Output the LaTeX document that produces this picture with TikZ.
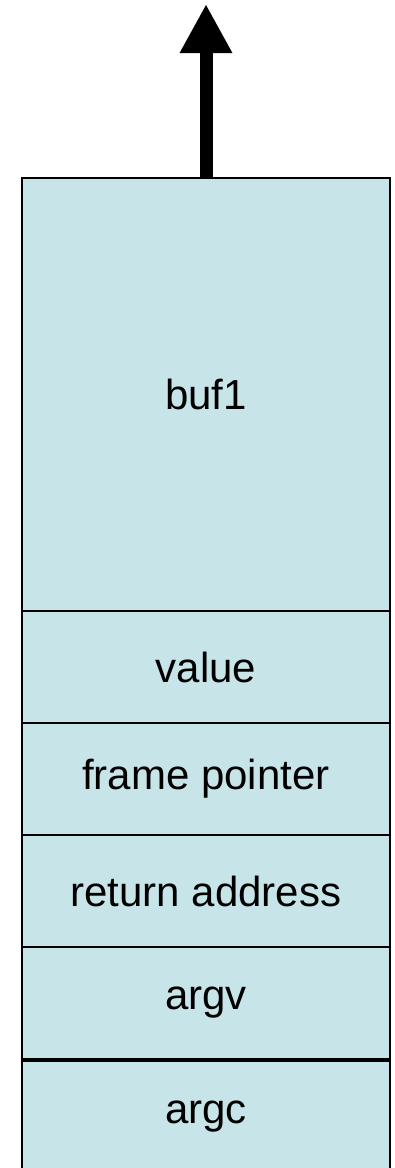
\documentclass[tikz,border=0pt]{standalone}
\usepackage{fontspec}
\setmainfont{Liberation Sans}
\usetikzlibrary{arrows.meta}
\definecolor{cellfill}{RGB}{199,229,232}
\tikzset{
  cell/.style={draw=black, line width=2pt, fill=cellfill, inner sep=0pt,
    minimum width=368pt, font=\fontsize{42}{50}\selectfont, anchor=north},
  growth/.style={line width=13pt, -{Triangle[length=49pt,width=49pt]}}
}
\begin{document}
\begin{tikzpicture}[x=1pt,y=-1pt]
  \useasboundingbox (0,0) rectangle (394,1168);
  % stack frame, top of memory at the bottom
  \node[cell, minimum height=433pt] (buf1) at (206,177) {buf1};
  \node[cell, minimum height=112pt] (value) at (206,610) {value};
  \node[cell, minimum height=112pt] (fp) at (206,722) {frame pointer};
  \node[cell, minimum height=112pt] (ret) at (206,834) {return address};
  \node[cell, minimum height=111.5pt] (argv) at (206,946) {argv};
  \node[cell, minimum height=112pt] (argc) at (206,1059.5) {argc};
  % direction in which the buffer grows
  \coordinate (tip) at (206,4);
  \draw[growth] (buf1.north) -- (tip);
\end{tikzpicture}
\end{document}
